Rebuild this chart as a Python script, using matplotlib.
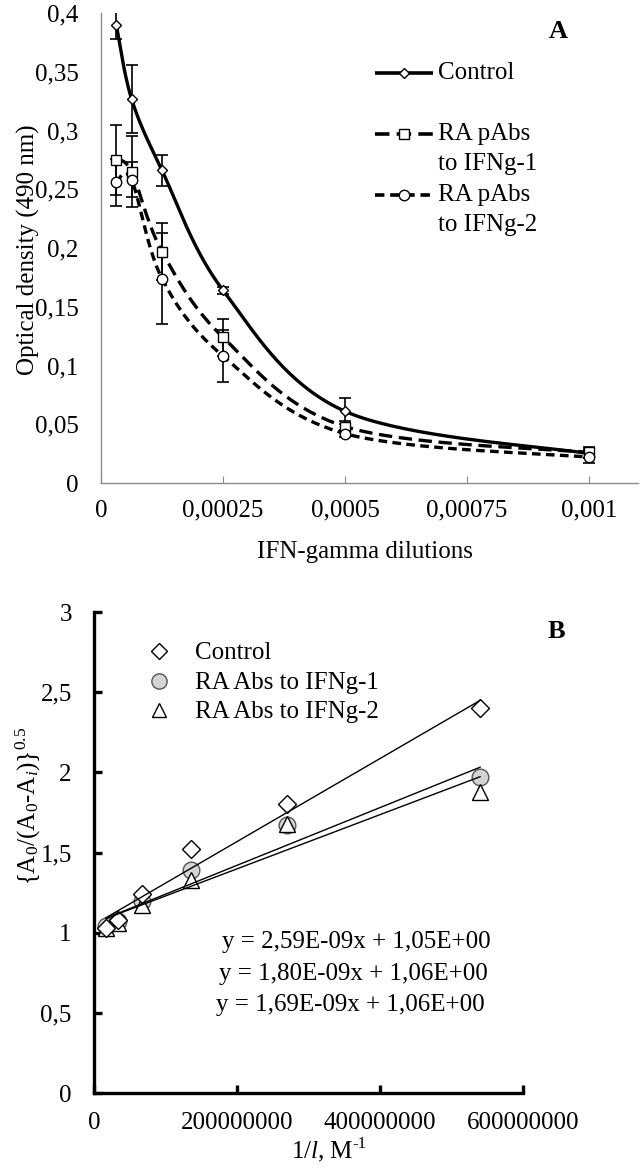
import numpy as np
import matplotlib
matplotlib.use("Agg")
import matplotlib.pyplot as plt

plt.rcParams['font.family'] = ['Liberation Serif', 'DejaVu Serif']
plt.rcParams['mathtext.fontset'] = 'custom'
plt.rcParams['mathtext.rm'] = 'Liberation Serif'
plt.rcParams['mathtext.it'] = 'Liberation Serif:italic'

# ---- panel A data: IFN-gamma dilutions vs optical density
dilutions = [1/32000, 1/16000, 1/8000, 1/4000, 1/2000, 1/1000]
od_control = [0.390, 0.327, 0.266, 0.164, 0.061, 0.025]
err_control = [0.012, 0.029, 0.013, 0.003, 0.011, 0.004]
od_ra1 = [0.275, 0.265, 0.197, 0.124, 0.048, 0.026]
err_ra1 = [0.030, 0.030, 0.024, 0.016, 0.005, 0.005]
od_ra2 = [0.256, 0.258, 0.174, 0.108, 0.042, 0.022]
err_ra2 = [0.020, 0.015, 0.039, 0.022, 0.003, 0.005]
a_yticks = [0, 0.05, 0.1, 0.15, 0.2, 0.25, 0.3, 0.35, 0.4]
a_yticklabels = ['0', '0,05', '0,1', '0,15', '0,2', '0,25', '0,3', '0,35', '0,4']
a_xticks = [0, 0.00025, 0.0005, 0.00075, 0.001]
a_xticklabels = ['0', '0,00025', '0,0005', '0,00075', '0,001']

# ---- panel B data: linearised plot
inv_l = [1.6875e7, 3.375e7, 6.75e7, 1.35e8, 2.7e8, 5.4e8]
b_control = [1.03, 1.08, 1.24, 1.52, 1.80, 2.40]
b_ra1 = [1.04, 1.07, 1.20, 1.39, 1.67, 1.97]
b_ra2 = [1.03, 1.06, 1.17, 1.33, 1.68, 1.88]
fit_slopes = [2.59e-9, 1.80e-9, 1.69e-9]
fit_icepts = [1.05, 1.06, 1.06]
fit_texts = ['y = 2,59E-09x + 1,05E+00',
             'y = 1,80E-09x + 1,06E+00',
             'y = 1,69E-09x + 1,06E+00']
b_yticks = [0, 0.5, 1, 1.5, 2, 2.5, 3]
b_yticklabels = ['0', '0,5', '1', '1,5', '2', '2,5', '3']
b_xticks = [0, 2e8, 4e8, 6e8]
b_xticklabels = ['0', '200000000', '400000000', '600000000']

W, H = 643, 1171
FS = 18


def px_axes(l, r, t, b):
	return [l / W, 1 - b / H, (r - l) / W, (b - t) / H]


def smooth(ax, x, y, n=40):
	# excel-like smoothed line, built in screen space
	P = ax.transData.transform(np.column_stack([x, y]))
	out = []
	t = np.linspace(0, 1, n)[:, None]
	for i in range(len(P) - 1):
		p0 = P[i - 1] if i > 0 else P[i]
		p1, p2 = P[i], P[i + 1]
		p3 = P[i + 2] if i + 2 < len(P) else P[i + 1]
		c1 = p1 + (p2 - p0) / 6
		c2 = p2 - (p3 - p1) / 6
		seg = (1 - t)**3 * p1 + 3 * (1 - t)**2 * t * c1 + 3 * (1 - t) * t**2 * c2 + t**3 * p2
		out.append(seg if i == 0 else seg[1:])
	c = ax.transData.inverted().transform(np.vstack(out))
	return c[:, 0], c[:, 1]


fig = plt.figure(figsize=(W / 100, H / 100), dpi=100)

# ================= panel A
axA = fig.add_axes(px_axes(101, 638, 13, 483))
axA.set_xlim(0, 0.0011)
axA.set_ylim(0, 0.4)
for s in ['top', 'right']:
	axA.spines[s].set_visible(False)
for s in ['left', 'bottom']:
	axA.spines[s].set_color('#8c8c8c')
	axA.spines[s].set_linewidth(1.0)
axA.set_xticks(a_xticks)
axA.set_xticklabels(a_xticklabels)
axA.set_yticks(a_yticks)
axA.set_yticklabels(a_yticklabels)
axA.tick_params(axis='x', direction='in', length=5, color='#8c8c8c', labelsize=FS, pad=12)
axA.tick_params(axis='y', length=0, labelsize=FS, pad=16)

series = [
	(od_control, err_control, 'D', 5.5, None),
	(od_ra1, err_ra1, 's', 7, (4, 2)),
	(od_ra2, err_ra2, 'o', 7.5, (2.6, 1.6)),
]
for vals, err, mk, ms, dash in series:
	axA.errorbar(dilutions, vals, yerr=err, fmt='none', ecolor='black',
	             elinewidth=1.2, capsize=4, capthick=1.2, zorder=2)
	sx, sy = smooth(axA, dilutions, vals)
	ln, = axA.plot(sx, sy, color='black', lw=2.4, zorder=3, solid_capstyle='butt')
	if dash:
		ln.set_dashes(dash)
	axA.plot(dilutions, vals, mk, ms=ms, mfc='white', mec='black', mew=1.0, zorder=5)

# legend drawn by hand so the handle sits on the first text line
def fx(p):
	return (p - 101) / 537
def fy(p):
	return (483 - p) / 470

leg = [(73, 'D', 5.5, None, ['Control']),
       (134, 's', 7, (4, 2), ['RA pAbs', 'to IFNg-1']),
       (195, 'o', 7.5, (2.6, 1.6), ['RA pAbs', 'to IFNg-2'])]
for py, mk, ms, dash, lines in leg:
	ln, = axA.plot([fx(375), fx(433)], [fy(py), fy(py)], color='black', lw=2.6,
	               transform=axA.transAxes, clip_on=False, solid_capstyle='butt')
	if dash:
		ln.set_dashes(dash)
	axA.plot([fx(404)], [fy(py)], mk, ms=ms, mfc='white', mec='black', mew=1.0,
	         transform=axA.transAxes, clip_on=False)
	for k, txt in enumerate(lines):
		axA.text(fx(438), fy(py + 30 * k), txt, transform=axA.transAxes,
		         fontsize=FS, va='center', ha='left')

fig.text(558 / W, 1 - 32 / H, 'A', fontsize=19, fontweight='bold', ha='center', va='center')
fig.text(28 / W, 1 - 250 / H, 'Optical density (490 nm)', fontsize=FS,
         rotation=90, ha='center', va='center')
fig.text(365 / W, 1 - 552 / H, 'IFN-gamma dilutions', fontsize=FS, ha='center', va='center')

# ================= panel B
axB = fig.add_axes(px_axes(94, 523, 612, 1093))
axB.set_xlim(0, 6e8)
axB.set_ylim(0, 3)
for s in ['top', 'right']:
	axB.spines[s].set_visible(False)
for s in ['left', 'bottom']:
	axB.spines[s].set_color('black')
	axB.spines[s].set_linewidth(2.4)
axB.set_xticks(b_xticks)
axB.set_xticklabels(b_xticklabels)
axB.set_yticks(b_yticks)
axB.set_yticklabels(b_yticklabels)
axB.tick_params(axis='both', direction='in', length=6, width=2.4, color='black', labelsize=FS)
axB.tick_params(axis='x', pad=14)
axB.tick_params(axis='y', pad=16)

axB.plot(inv_l, b_ra1, 'o', ms=12, mfc='#d4d4d4', mec='#555555', mew=1.0, zorder=3)
axB.plot(inv_l, b_ra2, '^', ms=11, mfc='white', mec='black', mew=1.0, zorder=4)
axB.plot(inv_l, b_control, 'D', ms=9, mfc='white', mec='black', mew=1.0, zorder=4)

xs = np.array([inv_l[0], inv_l[-1]])
for k in range(3):
	axB.plot(xs, fit_slopes[k] * xs + fit_icepts[k], color='black', lw=1.0, zorder=6)

def gx(p):
	return (p - 94) / 429
def gy(p):
	return (1093 - p) / 481

bleg = [(651, 'D', 8, '#ffffff', 'black', 'Control'),
        (681, 'o', 11, '#d4d4d4', '#555555', 'RA Abs to IFNg-1'),
        (710, '^', 10, '#ffffff', 'black', 'RA Abs to IFNg-2')]
for py, mk, ms, fc, ec, txt in bleg:
	axB.plot([gx(159)], [gy(py)], mk, ms=ms, mfc=fc, mec=ec, mew=1.0,
	         transform=axB.transAxes, clip_on=False)
	axB.text(gx(195), gy(py + 2), txt, transform=axB.transAxes, fontsize=FS,
	         ha='left', va='center')

for k, py in enumerate([942, 974, 1005]):
	axB.text(gx(356 - 3 * k), gy(py), fit_texts[k], transform=axB.transAxes,
	         fontsize=FS, ha='center', va='center')

fig.text(556 / W, 1 - 632 / H, 'B', fontsize=19, fontweight='bold', ha='center', va='center')
fig.text(28 / W, 1 - 806 / H, r'{A$_0$/(A$_0$-A$_i$)}$^{0.5}$', fontsize=FS,
         rotation=90, ha='center', va='center')
# label and its raised "-1" kept as plain text so the hyphen stays a hyphen
xl = fig.text(322 / W, 1 - 1152 / H, r'1/$l$, M', fontsize=FS, ha='center', va='center')
fig.text(352 / W, 1 - 1144 / H, '-1', fontsize=12, ha='left', va='center')

fig.savefig('out.png', dpi=100)
